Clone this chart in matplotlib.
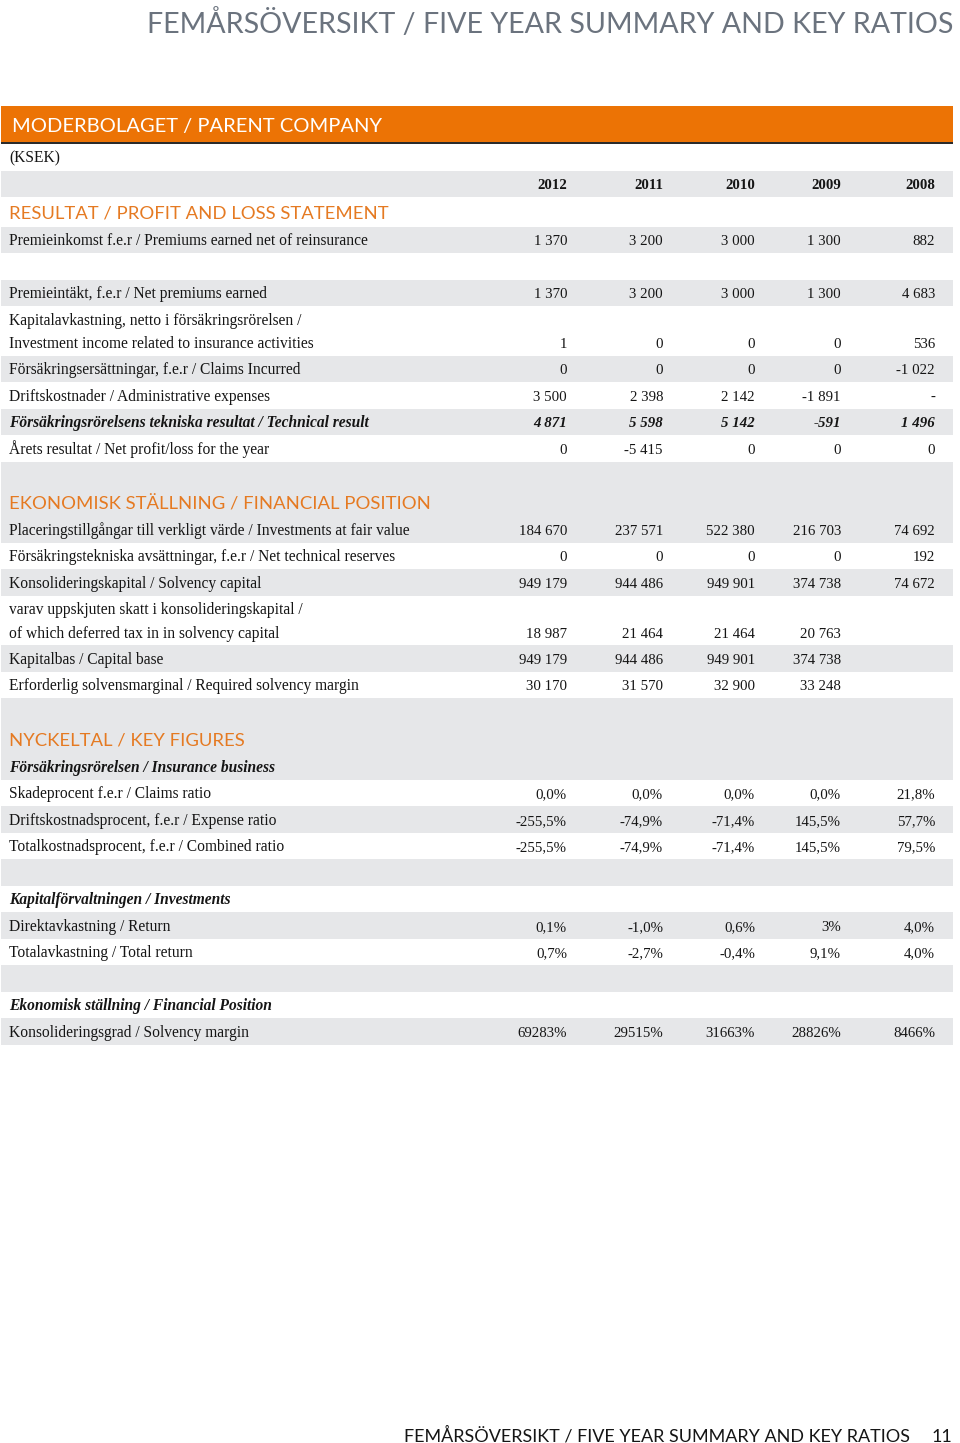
import matplotlib.pyplot as plt
from matplotlib.patches import Rectangle

# Five year summary, parent company (KSEK)
years = ['2012', '2011', '2010', '2009', '2008']

premieinkomst = ['1 370', '3 200', '3 000', '1 300', '882']
premieintakt = ['1 370', '3 200', '3 000', '1 300', '4 683']
kapitalavkastning = ['1', '0', '0', '0', '536']
ersattningar = ['0', '0', '0', '0', '-1 022']
driftskostnader = ['3 500', '2 398', '2 142', '-1 891', '-']
tekniskt_resultat = ['4 871', '5 598', '5 142', '-591', '1 496']
arets_resultat = ['0', '-5 415', '0', '0', '0']

placeringstillgangar = ['184 670', '237 571', '522 380', '216 703', '74 692']
tekniska_avsattningar = ['0', '0', '0', '0', '192']
konsolideringskapital = ['949 179', '944 486', '949 901', '374 738', '74 672']
uppskjuten_skatt = ['18 987', '21 464', '21 464', '20 763', '']
kapitalbas = ['949 179', '944 486', '949 901', '374 738', '']
solvensmarginal = ['30 170', '31 570', '32 900', '33 248', '']

skadeprocent = ['0,0%', '0,0%', '0,0%', '0,0%', '21,8%']
driftskostnadsprocent = ['-255,5%', '-74,9%', '-71,4%', '145,5%', '57,7%']
totalkostnadsprocent = ['-255,5%', '-74,9%', '-71,4%', '145,5%', '79,5%']
direktavkastning = ['0,1%', '-1,0%', '0,6%', '3%', '4,0%']
totalavkastning = ['0,7%', '-2,7%', '-0,4%', '9,1%', '4,0%']
konsolideringsgrad = ['69283%', '29515%', '31663%', '28826%', '8466%']

# colours / fonts
ORANGE = '#ec7305'
HEAD_ORANGE = '#e57a22'
GREY_BAND = '#e6e7e9'
TITLE_GREY = '#6b737e'
INK = '#151515'
SERIF = 'Liberation Serif'
SANS = 'Lato'
LABEL = 11.2
NUM = 10.7
HEAD = 13.3

# layout of the table: (kind, label, values, shaded, height)
rows = [
    ('plain', '(KSEK)', None, False, 26.5),
    ('years', '', years, True, 26.5),
    ('head', 'RESULTAT / PROFIT AND LOSS STATEMENT', None, False, 29.5),
    ('plain', 'Premieinkomst f.e.r / Premiums earned net of reinsurance', premieinkomst, True, 26.5),
    ('plain', '', None, False, 26.5),
    ('plain', 'Premieintäkt, f.e.r / Net premiums earned', premieintakt, True, 26.5),
    ('double', 'Kapitalavkastning, netto i försäkringsrörelsen /\nInvestment income related to insurance activities',
     kapitalavkastning, False, 49.5),
    ('plain', 'Försäkringsersättningar, f.e.r / Claims Incurred', ersattningar, True, 26.5),
    ('plain', 'Driftskostnader / Administrative expenses', driftskostnader, False, 26.5),
    ('bi', 'Försäkringsrörelsens tekniska resultat / Technical result', tekniskt_resultat, True, 26.5),
    ('plain', 'Årets resultat / Net profit/loss for the year', arets_resultat, False, 26.5),
    ('bighead', 'EKONOMISK STÄLLNING / FINANCIAL POSITION', None, True, 54.5),
    ('plain', 'Placeringstillgångar till verkligt värde / Investments at fair value', placeringstillgangar, True, 26.5),
    ('plain', 'Försäkringstekniska avsättningar, f.e.r / Net technical reserves', tekniska_avsattningar, False, 26.5),
    ('plain', 'Konsolideringskapital / Solvency capital', konsolideringskapital, True, 26.5),
    ('double', 'varav uppskjuten skatt i konsolideringskapital /\nof which deferred tax in in solvency capital',
     uppskjuten_skatt, False, 49.5),
    ('plain', 'Kapitalbas / Capital base', kapitalbas, True, 26.5),
    ('plain', 'Erforderlig solvensmarginal / Required solvency margin', solvensmarginal, False, 26.5),
    ('bighead', 'NYCKELTAL / KEY FIGURES', None, True, 55),
    ('bi', 'Försäkringsrörelsen / Insurance business', None, True, 26.5),
    ('plain', 'Skadeprocent f.e.r / Claims ratio', skadeprocent, False, 26.5),
    ('plain', 'Driftskostnadsprocent, f.e.r / Expense ratio', driftskostnadsprocent, True, 26.5),
    ('plain', 'Totalkostnadsprocent, f.e.r / Combined ratio', totalkostnadsprocent, False, 26.5),
    ('plain', '', None, True, 26.5),
    ('bi', 'Kapitalförvaltningen / Investments', None, False, 26.5),
    ('plain', 'Direktavkastning / Return', direktavkastning, True, 26.5),
    ('plain', 'Totalavkastning / Total return', totalavkastning, False, 26.5),
    ('plain', '', None, True, 26.5),
    ('bi', 'Ekonomisk ställning / Financial Position', None, False, 26.5),
    ('plain', 'Konsolideringsgrad / Solvency margin', konsolideringsgrad, True, 26.5),
]

col_right = [567, 663, 755, 841, 935]
x0, x1 = 1, 953
label_x = 9

fig = plt.figure(figsize=(9.6, 14.43), dpi=100)
ax = fig.add_axes([0, 0, 1, 1])
ax.set_xlim(0, 960)
ax.set_ylim(1443, 0)
ax.axis('off')

# page title
ax.text(953, 33, 'FEMÅRSÖVERSIKT / FIVE YEAR SUMMARY AND KEY RATIOS', ha='right', va='baseline',
        fontsize=20.6, family=SANS, color=TITLE_GREY)

# orange band
ax.add_patch(Rectangle((x0, 106), x1 - x0, 36, color=ORANGE, lw=0))
ax.add_patch(Rectangle((x0, 141.5), x1 - x0, 2.2, color='#2b2b2b', lw=0))
ax.text(12, 132, 'MODERBOLAGET / PARENT COMPANY', ha='left', va='baseline',
        fontsize=14.5, family=SANS, color='white')


def put_values(base, vals, **kw):
    for xr, v in zip(col_right, vals):
        ax.text(xr, base, v, ha='right', va='baseline', fontsize=NUM, family=SERIF, color=INK, **kw)


y = 144
for kind, label, vals, shaded, h in rows:
    if shaded:
        ax.add_patch(Rectangle((x0, y), x1 - x0, h, color=GREY_BAND, lw=0))
    bottom = y + h
    if kind == 'head':
        ax.text(label_x, y + h / 2 + 7, label, va='baseline', fontsize=HEAD,
                family=SANS, color=HEAD_ORANGE)
    elif kind == 'bighead':
        ax.text(label_x, bottom - 7, label, va='baseline', fontsize=HEAD,
                family=SANS, color=HEAD_ORANGE)
    elif kind == 'double':
        lines = label.split('\n')
        ax.text(label_x, y + 19, lines[0], va='baseline', fontsize=LABEL, family=SERIF, color=INK)
        ax.text(label_x, y + 42, lines[1], va='baseline', fontsize=LABEL, family=SERIF, color=INK)
        put_values(y + 42, vals)
    else:
        base = y + h / 2 + 5.5
        weight = 'bold' if kind in ('bi', 'years') else 'normal'
        style = 'italic' if kind == 'bi' else 'normal'
        if label:
            ax.text(label_x, base, label, va='baseline', fontsize=LABEL, family=SERIF,
                    weight=weight, style=style, color=INK)
        if vals is not None:
            put_values(base, vals, weight=weight, style=style)
    y = bottom

# footer
ax.text(910, 1442, 'FEMÅRSÖVERSIKT / FIVE YEAR SUMMARY AND KEY RATIOS', ha='right', va='baseline',
        fontsize=13, family=SANS, color=INK)
ax.text(952, 1442, '11', ha='right', va='baseline', fontsize=13, family=SANS, color=INK)

fig.savefig('out.png', dpi=100)
